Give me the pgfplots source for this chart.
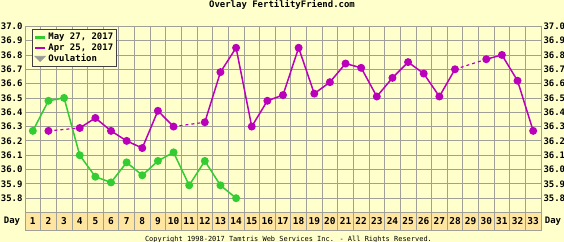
\documentclass[border=0pt]{standalone}
\usepackage{pgfplots}
\pgfplotsset{compat=1.18}
\usetikzlibrary{calc}
\usepackage{fontspec}
\setmainfont{DejaVu Sans Mono}
\definecolor{bg}{HTML}{FFFFCC}
\definecolor{strip}{HTML}{FFE6A0}
\definecolor{gridc}{HTML}{A0A098}
\definecolor{grn}{HTML}{33CC33}
\definecolor{prp}{HTML}{BB00BB}
\pgfdeclarelayer{bglayer}
\pgfsetlayers{bglayer,main}
\pgfplotstableread{
day t
1 36.27
2 36.48
3 36.50
4 36.10
5 35.95
6 35.91
7 36.05
8 35.96
9 36.06
10 36.12
11 35.89
12 36.06
13 35.89
14 35.80
}\greendata
\pgfplotstableread{
day t
2 36.27
3 nan
4 36.29
5 36.36
6 36.27
7 36.20
8 36.15
9 36.41
10 36.30
11 nan
12 36.33
13 36.68
14 36.85
15 36.30
16 36.48
17 36.52
18 36.85
19 36.53
20 36.61
21 36.74
22 36.71
23 36.51
24 36.64
25 36.75
26 36.67
27 36.51
28 36.70
29 nan
30 36.77
31 36.80
32 36.62
33 36.27
}\purpledata
\begin{document}
\begin{tikzpicture}
\begin{axis}[
  name=ax, scale only axis,
  width=516bp, height=203.7bp,
  xmin=0.5, xmax=33.5, ymin=35.578, ymax=37.0,
  /pgf/number format/assume math mode=true,
  axis line style={gridc, line width=0.8bp},
  xtick={1,...,33},
  minor xtick={1.5,2.5,...,32.5},
  xminorgrids, ymajorgrids,
  grid style={gridc, line width=0.8bp},
  minor grid style={gridc, line width=0.8bp},
  major tick length=0pt, minor tick length=0pt,
  xticklabel style={anchor=center, yshift=8.7bp, font=\fontsize{9.5}{9.5}\selectfont\bfseries},
  ytick={35.7,35.8,35.9,36.0,36.1,36.2,36.3,36.4,36.5,36.6,36.7,36.8,36.9,37.0},
  yticklabels={,35.8,35.9,36.0,36.1,36.2,36.3,36.4,36.5,36.6,36.7,36.8,36.9,37.0},
  ytick pos=left,
  yticklabel style={font=\fontsize{9}{9}\selectfont\bfseries, xshift=1bp},
  unbounded coords=jump,
  legend style={at={(0,1)}, anchor=north west, xshift=7bp, yshift=-3bp,
    fill=bg, draw=black!75, line width=0.8bp,
    font=\fontsize{9}{10}\selectfont\bfseries, inner sep=1.5bp,
    row sep=-1.5bp, cells={anchor=west}},
  clip=false,
]
\coordinate (SW) at (rel axis cs:0,0);
\coordinate (NE) at (rel axis cs:1,1);
\coordinate (ST) at (axis cs:33.5,35.7);
\addplot[grn, line width=1.5bp, mark=*, mark size=3.2bp,
  legend image code/.code={\draw[grn, line width=2.5bp] (0bp,0bp) -- (10bp,0bp);}]
  table[x=day, y=t] {\greendata};
\addlegendentry{May 27, 2017}
\addplot[prp, line width=1.5bp, mark=*, mark size=3.2bp,
  legend image code/.code={\draw[prp, line width=2.5bp] (0bp,0bp) -- (10bp,0bp);}]
  table[x=day, y=t] {\purpledata};
\addlegendentry{Apr 25, 2017}
\addlegendimage{legend image code/.code={\fill[gray!80] (0bp,2.5bp) -- (10bp,2.5bp) -- (5bp,-2.5bp) -- cycle;}}
\addlegendentry{Ovulation}
\addplot[prp, line width=1.2bp, dash pattern=on 3bp off 3bp, forget plot] coordinates {(2,36.27) (4,36.29)};
\addplot[prp, line width=1.2bp, dash pattern=on 3bp off 3bp, forget plot] coordinates {(10,36.30) (12,36.33)};
\addplot[prp, line width=1.2bp, dash pattern=on 3bp off 3bp, forget plot] coordinates {(28,36.70) (30,36.77)};
\end{axis}
\begin{axis}[
  at={(SW)}, anchor=south west, scale only axis,
  width=516bp, height=203.7bp,
  xmin=0.5, xmax=33.5, ymin=35.578, ymax=37.0,
  hide x axis, axis line style={draw=none},
  major tick length=0pt,
  ytick={35.8,35.9,36.0,36.1,36.2,36.3,36.4,36.5,36.6,36.7,36.8,36.9,37.0},
  yticklabels={35.8,35.9,36.0,36.1,36.2,36.3,36.4,36.5,36.6,36.7,36.8,36.9,37.0},
  ytick pos=right, yticklabel pos=right,
  yticklabel style={font=\fontsize{9}{9}\selectfont\bfseries, xshift=-1bp},
]
\end{axis}
\coordinate (O) at ($(SW)+(-25bp,-12bp)$);
\coordinate (TR) at ($(NE)+(23bp,26.3bp)$);
\begin{pgfonlayer}{bglayer}
\fill[bg] (O) rectangle (TR);
\fill[strip] (SW) rectangle (ST);
\end{pgfonlayer}
\node[font=\fontsize{9}{9}\selectfont\bfseries] at ($(O)+(12bp,20.7bp)$) {Day};
\node[font=\fontsize{9}{9}\selectfont\bfseries] at ($(O)+(553bp,20.7bp)$) {Day};
\node[font=\fontsize{9}{9}\selectfont\bfseries] at ($(O)+(282bp,237bp)$) {Overlay FertilityFriend.com};
\node[font=\fontsize{7}{7}\selectfont] at ($(O)+(288.5bp,2.5bp)$) {Copyright 1998-2017 Tamtris Web Services Inc. - All Rights Reserved.};
\pgfresetboundingbox
\path[use as bounding box] (O) rectangle (TR);
\end{tikzpicture}
\end{document}
